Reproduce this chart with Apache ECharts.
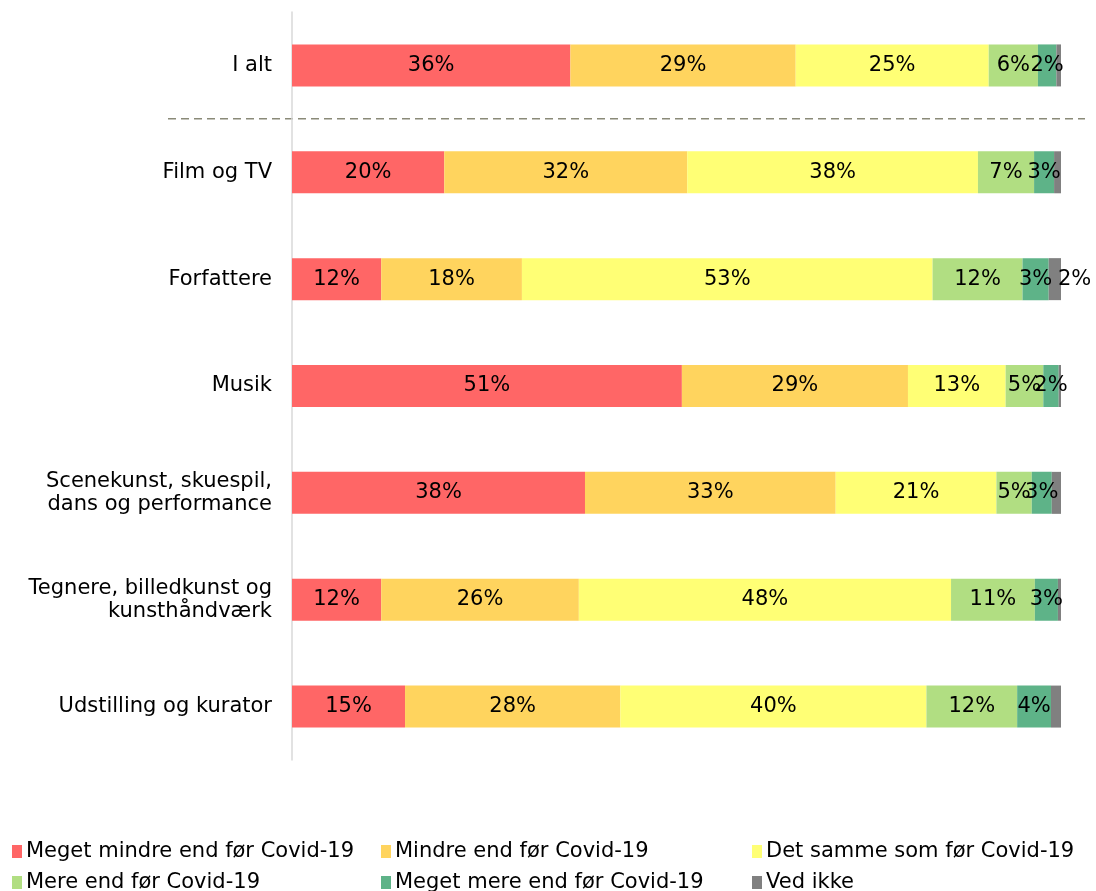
<!DOCTYPE html>
<html>
<head>
<meta charset="utf-8">
<script src="https://cdn.jsdelivr.net/npm/echarts@6/dist/echarts.min.js"></script>
<style>
  html, body { margin: 0; padding: 0; background: #fff; }
  #main { width: 1096px; height: 891px; }
</style>
</head>
<body>
<div id="main"></div>
<script>
// kategorier (oppefra og ned)
const categories = ['I alt', 'Film og TV', 'Forfattere', 'Musik',
  'Scenekunst, skuespil,\ndans og performance',
  'Tegnere, billedkunst og\nkunsthåndværk', 'Udstilling og kurator']

const seriesNames = ['Meget mindre end før Covid-19', 'Mindre end før Covid-19',
  'Det samme som før Covid-19', 'Mere end før Covid-19',
  'Meget mere end før Covid-19', 'Ved ikke']

// andele i procent, en liste pr. svarkategori
const megetMindre = [36.2, 19.8, 11.6, 50.7, 38.1, 11.6, 14.7]
const mindre      = [29.3, 31.6, 18.3, 29.4, 32.6, 25.7, 28.0]
const detSamme    = [25.1, 37.8, 53.4, 12.7, 20.9, 48.4, 39.8]
const mere        = [6.4, 7.3, 11.7, 4.9, 4.6, 10.9, 11.8]
const megetMere   = [2.4, 2.6, 3.4, 2.0, 2.6, 3.0, 4.4]
const vedIkke     = [0.6, 0.9, 1.6, 0.3, 1.2, 0.4, 1.3]

const colors = ['#ff6666', '#ffd45e', '#ffff75', '#b1de82', '#5eb388', '#808080']
const allValues = [megetMindre, mindre, detSamme, mere, megetMere, vedIkke]

const font = 'DejaVu Sans'
const fontSize = 21

const chart = echarts.init(document.getElementById('main'))

const series = allValues.map((vals, i) => ({
  name: seriesNames[i],
  type: 'bar',
  stack: 'total',
  barWidth: 42,
  itemStyle: { color: colors[i] },
  label: {
    show: true,
    position: 'inside',
    color: '#000',
    fontFamily: font,
    fontSize: fontSize,
    formatter: p => p.value >= 1.5 ? Math.round(p.value) + '%' : ''
  },
  data: vals.map(v => {
    // lille segment: etiket lige til højre for søjlen
    if (v >= 1.5 && v < 2) {
      return { value: v, label: { position: 'right', distance: -3 } }
    }
    return v
  })
}))

// legende i 3 kolonner x 2 rækker
const legendCols = [7, 376, 747]
const legendRows = [836, 867]
const legends = seriesNames.map((name, i) => ({
  data: [name],
  left: legendCols[i % 3],
  top: legendRows[Math.floor(i / 3)],
  icon: 'rect',
  itemWidth: 10,
  itemHeight: 13,
  itemGap: 5,
  textStyle: { fontFamily: font, fontSize: fontSize, color: '#000', padding: [0, 0, 0, -1] }
}))

const option = {
  animation: false,
  grid: { left: 292, right: 35, top: 12, height: 748 },
  xAxis: { type: 'value', min: 0, max: 100, show: false },
  yAxis: {
    type: 'category',
    inverse: true,
    data: categories,
    axisLine: { show: true, lineStyle: { color: '#d9d9d9', width: 1.5 } },
    axisTick: { show: false },
    axisLabel: { color: '#000', fontFamily: font, fontSize: fontSize, lineHeight: 23, margin: 20 }
  },
  legend: legends,
  graphic: [{
    type: 'line',
    shape: { x1: 168, y1: 12 + 748 / categories.length, x2: 1085, y2: 12 + 748 / categories.length },
    style: { stroke: '#8a8a78', lineWidth: 1.5, lineDash: [8, 5] }
  }],
  series: series
}

chart.setOption(option)
</script>
</body>
</html>
